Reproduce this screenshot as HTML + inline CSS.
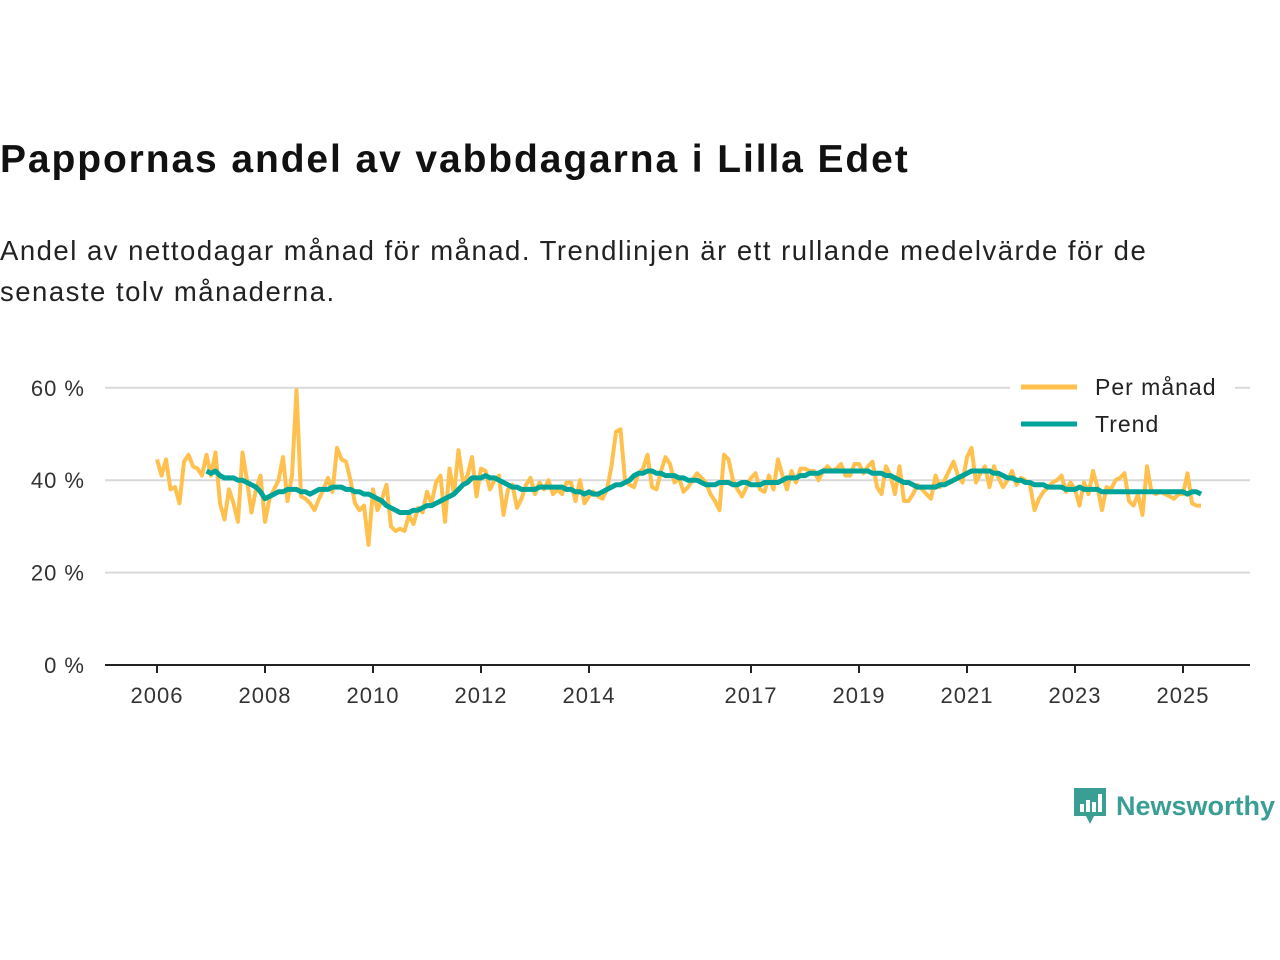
<!DOCTYPE html>
<html><head><meta charset="utf-8"><style>
body{margin:0;width:1280px;height:960px;background:#fff;font-family:"Liberation Sans",sans-serif;position:relative;overflow:hidden}
#title{position:absolute;left:0;top:138px;font-size:39px;font-weight:bold;color:#111;margin:0;letter-spacing:1.9px}
#sub{position:absolute;left:0;top:230px;font-size:27.5px;color:#222;line-height:41px;width:1240px;letter-spacing:1.5px}
svg{position:absolute;left:0;top:0}
#logo{position:absolute;left:1072px;top:786px;display:flex;align-items:center;color:#3a9e94;font-size:27px;font-weight:bold}
</style></head><body>
<h1 id="title">Puppornas</h1>
<div id="sub">Andel av nettodagar månad för månad. Trendlinjen är ett rullande medelvärde för de senaste tolv månaderna.</div>
<svg id="chart" width="1280" height="960"></svg>
<div id="logo"><svg width="36" height="40" style="position:static;margin-right:8px" viewBox="0 0 36 40"><path d="M2 2h32v28H22l-4 8-4-8H2z" fill="#3a9e94"/><rect x="8" y="18" width="4" height="8" fill="#fff"/><rect x="14" y="14" width="4" height="12" fill="#fff"/><rect x="20" y="16" width="4" height="10" fill="#fff"/><rect x="26" y="8" width="4" height="18" fill="#fff"/></svg>Newsworthy</div>
<script>
document.getElementById('title').textContent='Pappornas andel av vabbdagarna i Lilla Edet';
const yTicks=[0,20,40,60];
const xTicks=[2006,2008,2010,2012,2014,2017,2019,2021,2023,2025];
const monthly=[44.5,41,44.5,38,38.5,35,44,45.5,43,42.5,41,45.5,
41,46,35,31.5,38,35,31,46,40,33,38,41,
31,36,38,40,45,35.5,41,59.5,36.5,36,35,33.5,
36,38,40.5,37.5,47,44.5,44,40,35,33.5,34.5,26,
38,33.5,36,39,30,29,29.5,29,32.5,30.5,34,33,
37.5,35,39.5,41,31,42.5,37,46.5,39.5,41,45,36.5,
42.5,42,38,40,41,32.5,38,39,34,36,39,40.5,
37,39.5,38,40,37,38,37,39.5,39.5,35.5,40,35,
36.5,37.5,36.5,36,38,43,50.5,51,40,39,38.5,41.5,
42.5,45.5,38.5,38,42,45,43.5,39.5,40.5,37.5,38.5,40,
41.5,40.5,39.5,37,35.5,33.5,45.5,44.5,40,38,36.5,38.5,
40.5,41.5,38,37.5,41,38,44.5,41,38,42,39.5,42.5,
42.5,42,42,40,42,43,42,42.5,43.5,41,41,43.5,
43.5,41.5,43,44,38.5,37,43,41,37,43,35.5,35.5,
37,39,38,37,36,41,38.5,40,42,44,41,39.5,
45,47,39.5,41.5,43,38.5,43,40.5,38.5,40,42,39,
40.5,40,39,33.5,36,37.5,38.5,39.5,40,41,37.5,39.5,
38,34.5,39.5,37,42,38.5,33.5,38.5,38,40,40.5,41.5,
35.5,34.5,37,32.5,43,37.5,37,37.5,37,36.5,36,37,
37,41.5,35,34.5,34.5];
const trendStart=2006+11/12;
const trend=[42,
41.5,42,41,40.5,40.5,40.5,40,40,39.5,39,38.5,37.5,
36,36.5,37,37.5,37.5,38,38,38,37.5,37.5,37,37.5,
38,38,38,38.5,38.5,38.5,38,38,37.5,37.5,37,37,
36.5,36,35.5,34.5,34,33.5,33,33,33,33.5,33.5,34,
34.5,34.5,35,35.5,36,36.5,37,38,39,39.5,40.5,40.5,
40.5,41,40.5,40.5,40,39.5,39,38.5,38.5,38,38,38,
38,38.5,38.5,38.5,38.5,38.5,38.5,38,38,37.5,37.5,37,
37.5,37,37,37.5,38,38.5,39,39,39.5,40,41,41.5,
41.5,42,42,41.5,41.5,41,41,41,40.5,40.5,40,40,
40,39.5,39,39,39,39.5,39.5,39.5,39,39,39.5,39.5,
39,39,39,39.5,39.5,39.5,39.5,40,40.5,40.5,40.5,41,
41,41.5,41.5,41.5,42,42,42,42,42,42,42,42,
42,42,42,41.5,41.5,41.5,41,41,40.5,40,39.5,39.5,
39,38.5,38.5,38.5,38.5,38.5,39,39,39.5,40,40.5,41,
41.5,42,42,42,42,42,41.5,41.5,41,40.5,40.5,40,
40,39.5,39.5,39,39,39,38.5,38.5,38.5,38.5,38,38,
38,38.5,38,38,38,38,37.5,37.5,37.5,37.5,37.5,37.5,
37.5,37.5,37.5,37.5,37.5,37.5,37.5,37.5,37.5,37.5,37.5,37.5,
37.5,37,37.5,37.5,37];
const legendLabels=['Per månad','Trend'];

const NS='http://www.w3.org/2000/svg';
const svg=document.getElementById('chart');
const X=t=>157+(t-2006)*54;
const Y=v=>665-v*4.62;
function mk(tag,attrs,parent){const e=document.createElementNS(NS,tag);for(const k in attrs)e.setAttribute(k,attrs[k]);(parent||svg).appendChild(e);return e;}
yTicks.forEach(v=>{
  if(v>0){const g=mk('line',{x1:105,x2:1250,y1:Y(v),y2:Y(v),stroke:'#d9d9d9','stroke-width':2});
  
  }
  const t=mk('text',{x:85,y:Y(v)+8,'text-anchor':'end','font-size':22,fill:'#333','font-family':'Liberation Sans, sans-serif','letter-spacing':1});
  t.textContent=v+' %';
  
  
});
const ax=mk('line',{x1:105,x2:1250,y1:665,y2:665,stroke:'#222','stroke-width':2});


xTicks.forEach(y=>{
  const tk=mk('line',{x1:X(y),x2:X(y),y1:665,y2:673,stroke:'#222','stroke-width':2});
  
  
  const t=mk('text',{x:X(y),y:703,'text-anchor':'middle','font-size':22,fill:'#333','font-family':'Liberation Sans, sans-serif','letter-spacing':1});
  t.textContent=y;
  
  
});
const mp=monthly.map((v,i)=>X(2006+i/12).toFixed(1)+','+Y(v).toFixed(1)).join(' ');
const l1=mk('polyline',{points:mp,fill:'none',stroke:'#ffc04d','stroke-width':4,'stroke-linejoin':'round'});


const tp=trend.map((v,i)=>X(trendStart+i/12).toFixed(1)+','+Y(v).toFixed(1)).join(' ');
const l2=mk('polyline',{points:tp,fill:'none',stroke:'#00a398','stroke-width':5,'stroke-linejoin':'round'});


const cols=['#ffc04d','#00a398'];
legendLabels.forEach((lab,i)=>{
  const y=387+i*37;
  const bg=mk('rect',{x:1010,y:y-16,width:225,height:32,fill:'#fff'});
  
  
  const ln=mk('line',{x1:1021,x2:1077,y1:y,y2:y,stroke:cols[i],'stroke-width':5});
  
  
  const t=mk('text',{x:1095,y:y+8,'font-size':23,fill:'#222','font-family':'Liberation Sans, sans-serif','letter-spacing':1});
  t.textContent=lab;
  
  
});
</script>
</body></html>
